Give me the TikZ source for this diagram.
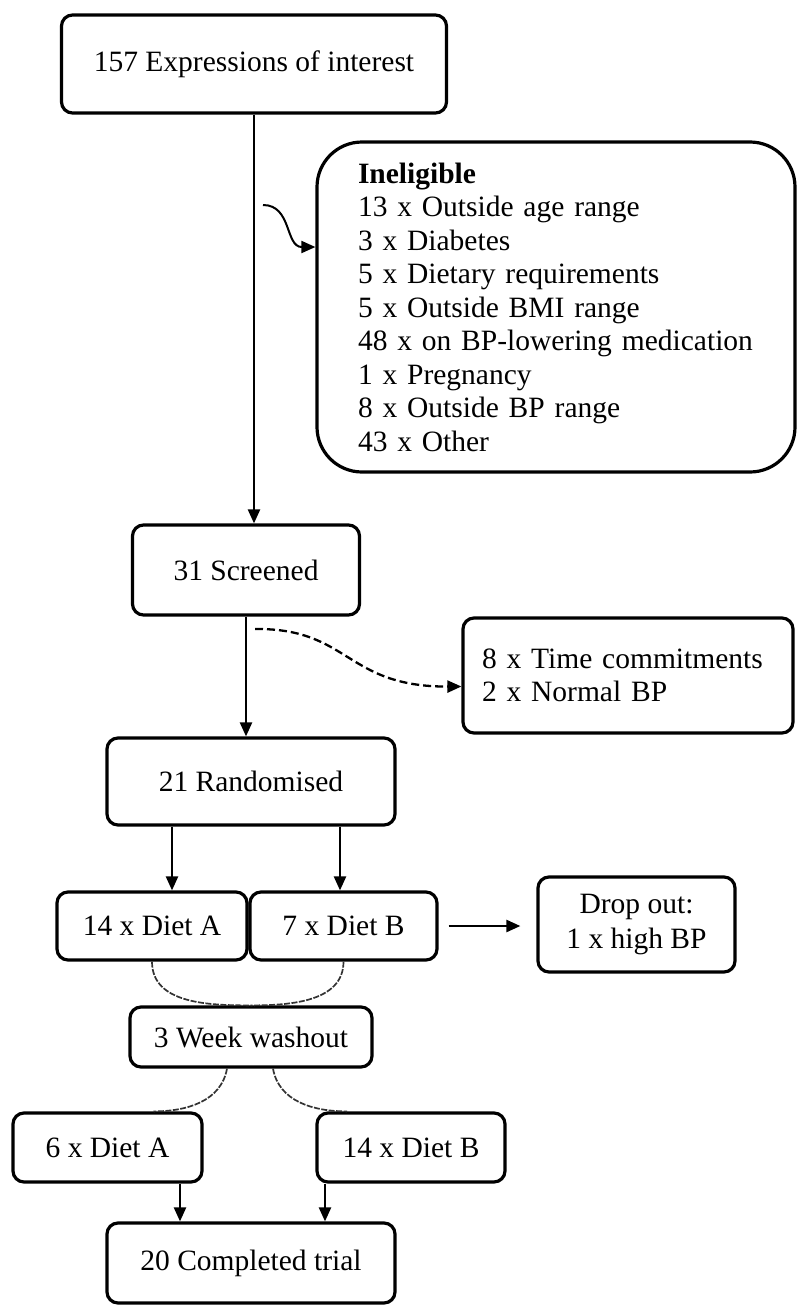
\documentclass[tikz,border=0pt]{standalone}
\usepackage{fontspec}
\setmainfont{Liberation Serif}
\usetikzlibrary{arrows.meta}

\tikzset{
  flowbox/.style={draw, line width=3.2pt, rounded corners=11pt, inner sep=0pt,
    font=\fontsize{29.5}{33.5}\selectfont},
  flowline/.style={line width=2.3pt, -{Triangle[length=14pt,width=12pt]}},
  dropline/.style={line width=2.3pt, dash pattern=on 8pt off 4pt, -{Triangle[length=14pt,width=12pt]}},
  swapline/.style={line width=1.7pt, dash pattern=on 6pt off 1.5pt, draw=black!80},
}

\begin{document}
\begin{tikzpicture}[x=1pt, y=-1pt]
        \useasboundingbox (0,0) rectangle (796,1306);

        % Enrolment
        \node[flowbox, minimum width=385pt, minimum height=98pt] (expr) at (254,64) {157 Expressions of interest};
        \node[flowbox, rounded corners=45pt, minimum width=478pt, minimum height=330pt,
              text width=396pt, inner xsep=41pt, align=left] (inel) at (556,307)
              {\textbf{Ineligible}\\
               13 x Outside age range\\
               3 x Diabetes\\
               5 x Dietary requirements\\
               5 x Outside BMI range\\
               48 x on BP-lowering medication\\
               1 x Pregnancy\\
               8 x Outside BP range\\
               43 x Other};
        \node[flowbox, minimum width=227pt, minimum height=90pt] (screen) at (246,570) {31 Screened};
        \node[flowbox, minimum width=330pt, minimum height=115pt,
              text width=292pt, inner xsep=19pt, align=left] (time) at (628,675.5)
              {8 x Time commitments\\ 2 x Normal BP};
        \node[flowbox, minimum width=288pt, minimum height=87pt] (rand) at (251,781.5) {21 Randomised};

        % First period
        \node[flowbox, minimum width=190pt, minimum height=68pt] (dietA) at (152,926) {14 x Diet A};
        \node[flowbox, minimum width=187pt, minimum height=68pt] (dietB) at (343.5,926) {7 x Diet B};
        \node[flowbox, minimum width=197pt, minimum height=95pt, align=center,
              font=\fontsize{29.5}{35}\selectfont] (drop) at (636.5,924.5) {Drop out:\\ 1 x high BP};
        \node[flowbox, minimum width=242pt, minimum height=60pt] (wash) at (251,1037) {3 Week washout};

        % Second period
        \node[flowbox, minimum width=189pt, minimum height=69pt] (dietA2) at (107.5,1147.5) {6 x Diet A};
        \node[flowbox, minimum width=188pt, minimum height=69pt] (dietB2) at (411,1147.5) {14 x Diet B};
        \node[flowbox, minimum width=288pt, minimum height=80pt] (done) at (251,1263) {20 Completed trial};

        % Connectors
        \coordinate (inelfrom) at (263,205);
        \coordinate (dropfrom) at (255,629);
        \draw[flowline] (expr.south) -- (expr.south |- screen.north);
        \draw[flowline, line width=2pt] (inelfrom) .. controls (292,205) and (285,247) .. (inel.166);
        \draw[flowline] (screen.south) -- (screen.south |- rand.north);
        \draw[dropline] (dropfrom) .. controls (350,628) and (345,687) .. ([yshift=-11pt]time.west);
        \draw[flowline] ([xshift=-79pt]rand.south) -- ([xshift=-79pt]rand.south |- dietA.north);
        \draw[flowline] ([xshift=89pt]rand.south) -- ([xshift=89pt]rand.south |- dietB.north);
        \draw[flowline, shorten <=10pt, shorten >=16pt] (dietB.east) -- (dietB.east -| drop.west);

        % Crossover
        \draw[swapline] (dietA.south) to[out=-90, in=180] (wash.north);
        \draw[swapline] (dietB.south) to[out=-90, in=0] (wash.north);
        \draw[swapline] ([xshift=-24pt]wash.south) to[out=-100, in=0] ([xshift=46pt]dietA2.north);
        \draw[swapline] ([xshift=22pt]wash.south) to[out=-80, in=180] ([xshift=-64pt]dietB2.north);
        \draw[flowline] ([xshift=72.5pt]dietA2.south) -- ([xshift=72.5pt]dietA2.south |- done.north);
        \draw[flowline] ([xshift=-86pt]dietB2.south) -- ([xshift=-86pt]dietB2.south |- done.north);
    \end{tikzpicture}
\end{document}
